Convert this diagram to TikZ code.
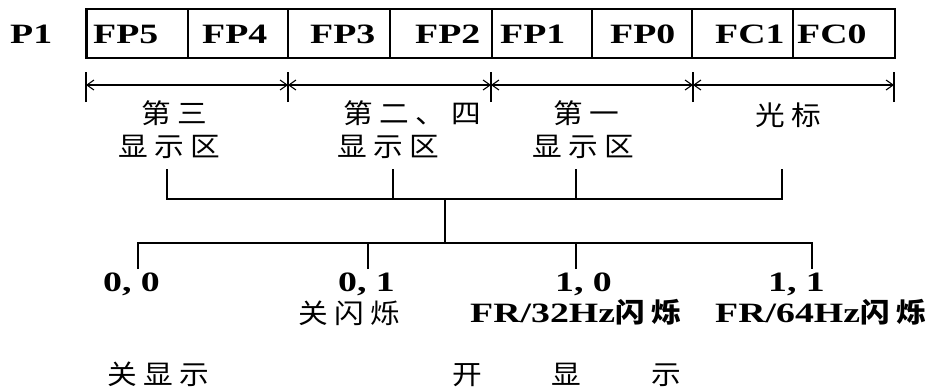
\documentclass[tikz,border=0pt]{standalone}
\usepackage{fontspec}
\usetikzlibrary{arrows.meta}
\newfontfamily\latf{Liberation Serif}[FakeStretch=1.35]
\newfontfamily\cjkf{Noto Sans CJK SC}[FakeStretch=1.1,LetterSpace=24]
\begin{document}
\begin{tikzpicture}[x=1pt,y=-1pt,
  lbl/.style={font=\fontsize{28}{28}\latf\bfseries, inner sep=0pt, anchor=base west},
  cj/.style={font=\fontsize{27}{27}\cjkf, inner sep=0pt, anchor=base west},
  cell/.style={draw, line width=1.3pt, minimum height=49pt, inner sep=0pt},
  tree/.style={line width=1.6pt},
  dim/.style={line width=1.1pt, {Straight Barb[length=7pt,width=10pt]}-{Straight Barb[length=7pt,width=10pt]}},
  tick/.style={line width=2pt}]
\useasboundingbox (0,0) rectangle (941,389);
% register label
\node[lbl] (p1) at (10,43) {P1};
% cells
\node[cell, minimum width=102pt] (c1) at (137,33.5) {};
\node[cell, minimum width=100pt] (c2) at (238,33.5) {};
\node[cell, minimum width=102pt] (c3) at (339,33.5) {};
\node[cell, minimum width=102pt] (c4) at (441,33.5) {};
\node[cell, minimum width=100pt] (c5) at (542,33.5) {};
\node[cell, minimum width=100pt] (c6) at (642,33.5) {};
\node[cell, minimum width=101pt] (c7) at (742.5,33.5) {};
\node[cell, minimum width=102pt] (c8) at (844,33.5) {};
\draw[line width=1.3pt] ([xshift=2pt]c1.north west) -- ([xshift=2pt]c1.south west);
\node[lbl] (t1) at (93,43) {FP5};
\node[lbl] (t2) at (202,43) {FP4};
\node[lbl] (t3) at (310,43) {FP3};
\node[lbl] (t4) at (415,43) {FP2};
\node[lbl] (t5) at (500,43) {FP1};
\node[lbl] (t6) at (610,43) {FP0};
\node[lbl] (t7) at (715,43) {FC1};
\node[lbl] (t8) at (797,43) {FC0};
% dimension line
\coordinate (d0) at (86,85);
\coordinate (d1) at (288,85);
\coordinate (d2) at (491,85);
\coordinate (d3) at (693,85);
\coordinate (d4) at (894,85);
\foreach \p in {d0,d1,d2,d3,d4}
  \draw[tick] ([yshift=-17pt]\p) -- ([yshift=13pt]\p);
\draw[dim] (d0) -- (d1);
\draw[dim] (d1) -- (d2);
\draw[dim] (d2) -- (d3);
\draw[dim] (d3) -- (d4);
% region labels
\node[cj] (r1a) at (141,123) {第三};
\node[cj] (r1b) at (118,156) {显示区};
\node[cj] (r2a) at (343,123) {第二、四};
\node[cj] (r2b) at (337,156) {显示区};
\node[cj] (r3a) at (553,123) {第一};
\node[cj] (r3b) at (532,156) {显示区};
\node[cj] (r4) at (755,125) {光标};
% upper bracket
\coordinate (a1) at (167,169);
\coordinate (a2) at (393,169);
\coordinate (a3) at (576,169);
\coordinate (a4) at (782,169);
\coordinate (hj) at (445,199);
\coordinate (lj) at (445,243);
\draw[tree] (a1) |- (hj) -| (a4);
\draw[tree] (a2) -- (a2 |- hj);
\draw[tree] (a3) -- (a3 |- hj);
\draw[tree] (hj) -- (lj);
% lower bracket
\coordinate (b1) at (138,269);
\coordinate (b2) at (368,269);
\coordinate (b3) at (576,269);
\coordinate (b4) at (812,269);
\draw[tree] (b1) |- (lj) -| (b4);
\draw[tree] (b2) -- (b2 |- lj);
\draw[tree] (b3) -- (b3 |- lj);
% codes
\node[lbl] (k00) at (103,291) {0, 0};
\node[lbl] (k01) at (338,291) {0, 1};
\node[lbl] (k10) at (555,291) {1, 0};
\node[lbl] (k11) at (768,291) {1, 1};
\node[cj] (m01) at (298,323) {关闪烁};
\node[lbl] (m10) at (470,322) {FR/32Hz{\fontsize{27}{27}\cjkf 闪烁}};
\node[lbl] (m11) at (715,322) {FR/64Hz{\fontsize{27}{27}\cjkf 闪烁}};
\node[cj] (off) at (107,384) {关显示};
\node[cj] (on) at (452,384) {开\hspace{70pt}显\hspace{70pt}示};
\end{tikzpicture}
\end{document}
